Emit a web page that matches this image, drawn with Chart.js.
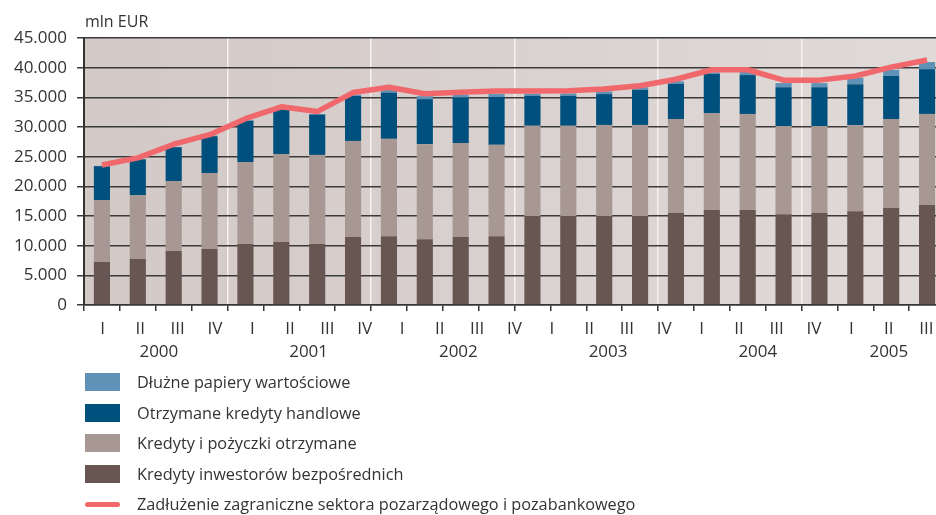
<!DOCTYPE html>
<html lang="pl">
<head>
<meta charset="utf-8">
<title>Zadłużenie zagraniczne sektora pozarządowego i pozabankowego</title>
<script src="https://cdn.jsdelivr.net/npm/chart.js@4.4.1/dist/chart.umd.min.js"></script>
<style>
  html, body { margin: 0; padding: 0; background: #fff; overflow: hidden; }
  #wrap { position: relative; width: 936px; height: 515px; overflow: hidden; }
  #chart { position: absolute; left: 0; top: 0; }
  #legend {
    position: absolute; left: 85px; top: 367px;
    font-family: "Open Sans", sans-serif; font-size: 16.3px; color: #333;
  }
  .row { height: 30.5px; display: flex; align-items: center; white-space: nowrap; }
  .sw { width: 35px; height: 18px; margin-right: 17px; flex: none; }
  .ln { width: 35px; height: 5px; border-radius: 3px; margin-right: 17px; flex: none; }
</style>
</head>
<body>
<div id="wrap">
  <canvas id="chart" width="945" height="371"></canvas>
  <div id="legend"></div>
</div>
<script>
// ------------------------------
// Data (mln EUR)
// ------------------------------
const unitLabel = "mln EUR";
const quarterLabels = ["I", "II", "III", "IV", "I", "II", "III", "IV", "I", "II", "III", "IV",
                       "I", "II", "III", "IV", "I", "II", "III", "IV", "I", "II", "III"];
const years = ["2000", "2001", "2002", "2003", "2004", "2005"];

// one value per bar (the picture shows 24 bars)
const directInvestorCredits = [7250, 7750, 9100, 9450, 10300, 10600, 10300, 11450, 11600, 11100, 11450, 11600,
                               15000, 15000, 15000, 15000, 15500, 16000, 16000, 15300, 15500, 15800, 16350, 16850];
const loansReceived = [10450, 10750, 11800, 12800, 13800, 14850, 15000, 16200, 16400, 16000, 15850, 15400,
                       15200, 15200, 15350, 15350, 15850, 16350, 16200, 14850, 14650, 14500, 15000, 15350];
const tradeCredits = [5700, 6050, 5700, 6200, 6950, 7550, 6800, 7600, 7800, 7600, 7650, 8050,
                      5050, 5050, 5200, 5900, 5900, 6600, 6550, 6550, 6550, 6900, 7250, 7550];
const debtSecurities = [50, 50, 50, 100, 100, 100, 100, 200, 500, 500, 450, 500,
                        350, 400, 450, 450, 450, 250, 650, 700, 700, 1100, 1050, 1200];
const totalDebt = [23600, 24800, 27100, 28700, 31400, 33400, 32600, 35800, 36700, 35600, 35850, 36050,
                   36050, 36100, 36400, 36950, 38050, 39650, 39650, 37900, 37900, 38600, 40100, 41300];

const seriesNames = {
  debt: "Dłużne papiery wartościowe",
  trade: "Otrzymane kredyty handlowe",
  loans: "Kredyty i pożyczki otrzymane",
  direct: "Kredyty inwestorów bezpośrednich",
  total: "Zadłużenie zagraniczne sektora pozarządowego i pozabankowego"
};

const colors = {
  debt: "#6091b6",
  trade: "#00507d",
  loans: "#a89894",
  direct: "#675652",
  total: "#f0686c"
};

// group quarter labels into years (each year starts at "I")
const yearGroups = [];
quarterLabels.forEach((q, i) => {
  if (q === "I") yearGroups.push({ year: years[yearGroups.length], first: i, last: i });
  else yearGroups[yearGroups.length - 1].last = i;
});

const fmt = v => v === 0 ? "0" : Math.floor(v / 1000) + "." + String(v % 1000).padStart(3, "0");

// ------------------------------
// Plot background + extra texts
// ------------------------------
const decor = {
  id: "decor",
  beforeDraw(chart) {
    const { ctx, chartArea: a } = chart;
    const g = ctx.createLinearGradient(a.left, 0, a.right, 0);
    g.addColorStop(0, "#d3c9c7");
    g.addColorStop(1, "#e0dad8");
    ctx.save();
    ctx.fillStyle = g;
    ctx.fillRect(a.left, a.top, a.right - a.left, a.bottom - a.top);
    ctx.restore();
  },
  afterDraw(chart) {
    const { ctx, chartArea: a, scales } = chart;
    ctx.save();
    ctx.fillStyle = "#333";
    ctx.font = '16px "Open Sans", sans-serif';
    ctx.textBaseline = "alphabetic";
    ctx.fillText(unitLabel, a.left + 1, 27);
    ctx.font = '17px "Open Sans", sans-serif';
    ctx.textAlign = "center";
    ctx.textBaseline = "middle";
    yearGroups.forEach(g => {
      ctx.fillText(g.year, scales.xq.getPixelForValue((g.first + g.last) / 2), 352);
    });
    ctx.restore();
  }
};

Chart.defaults.font.family = '"Open Sans", sans-serif';
Chart.defaults.color = "#333";

const barOpts = { barPercentage: 0.45, categoryPercentage: 1.0, order: 1, stack: "parts", borderWidth: 0 };

new Chart(document.getElementById("chart"), {
  type: "bar",
  data: {
    labels: totalDebt.map((_, i) => i),
    datasets: [
      { label: seriesNames.direct, data: directInvestorCredits, backgroundColor: colors.direct, ...barOpts },
      { label: seriesNames.loans, data: loansReceived, backgroundColor: colors.loans, ...barOpts },
      { label: seriesNames.trade, data: tradeCredits, backgroundColor: colors.trade, ...barOpts },
      { label: seriesNames.debt, data: debtSecurities, backgroundColor: colors.debt, ...barOpts },
      {
        type: "line", label: seriesNames.total, data: totalDebt, stack: "total", order: 0,
        borderColor: colors.total, borderWidth: 5.5, pointRadius: 0, tension: 0,
        borderJoinStyle: "round", fill: false
      }
    ]
  },
  options: {
    responsive: false,
    animation: false,
    layout: { padding: { top: 38, left: 0, right: 0, bottom: 0 } },
    plugins: { legend: { display: false }, tooltip: { enabled: false } },
    scales: {
      x: {
        stacked: true,
        weight: 0,
        offset: true,
        ticks: { display: false },
        grid: {
          offset: true,
          drawOnChartArea: true,
          color: c => (c.index > 0 && c.index % 4 === 0) ? "#f6f2f1" : "rgba(0,0,0,0)",
          lineWidth: 1.5,
          tickColor: "#333",
          tickWidth: 1.5,
          tickLength: 6
        },
        border: { display: true, color: "#333", width: 1.5 },
        afterFit: s => { s.height = 6; }
      },
      xq: {
        type: "category",
        labels: quarterLabels,
        position: "bottom",
        weight: 1,
        offset: true,
        grid: { display: false },
        border: { display: false },
        ticks: { font: { size: 17 }, color: "#333", padding: 0, maxRotation: 0, autoSkip: false },
        afterFit: s => { s.height = 60; }
      },
      y: {
        stacked: true,
        min: 0,
        max: 45000,
        ticks: { stepSize: 5000, font: { size: 17 }, color: "#333", padding: 10, callback: v => fmt(v) },
        grid: { color: "#3a3a3a", lineWidth: 1.5, tickColor: "#3a3a3a", tickLength: 7 },
        border: { display: true, color: "#333", width: 2 },
        afterFit: s => { s.width = 84; }
      }
    }
  },
  plugins: [decor]
});

// ------------------------------
// Legend (vertical list under the chart)
// ------------------------------
const legendItems = [
  { name: seriesNames.debt, color: colors.debt, kind: "sw" },
  { name: seriesNames.trade, color: colors.trade, kind: "sw" },
  { name: seriesNames.loans, color: colors.loans, kind: "sw" },
  { name: seriesNames.direct, color: colors.direct, kind: "sw" },
  { name: seriesNames.total, color: colors.total, kind: "ln" }
];
document.getElementById("legend").innerHTML = legendItems.map(it =>
  `<div class="row"><span class="${it.kind}" style="background:${it.color}"></span><span>${it.name}</span></div>`
).join("");
</script>
</body>
</html>
